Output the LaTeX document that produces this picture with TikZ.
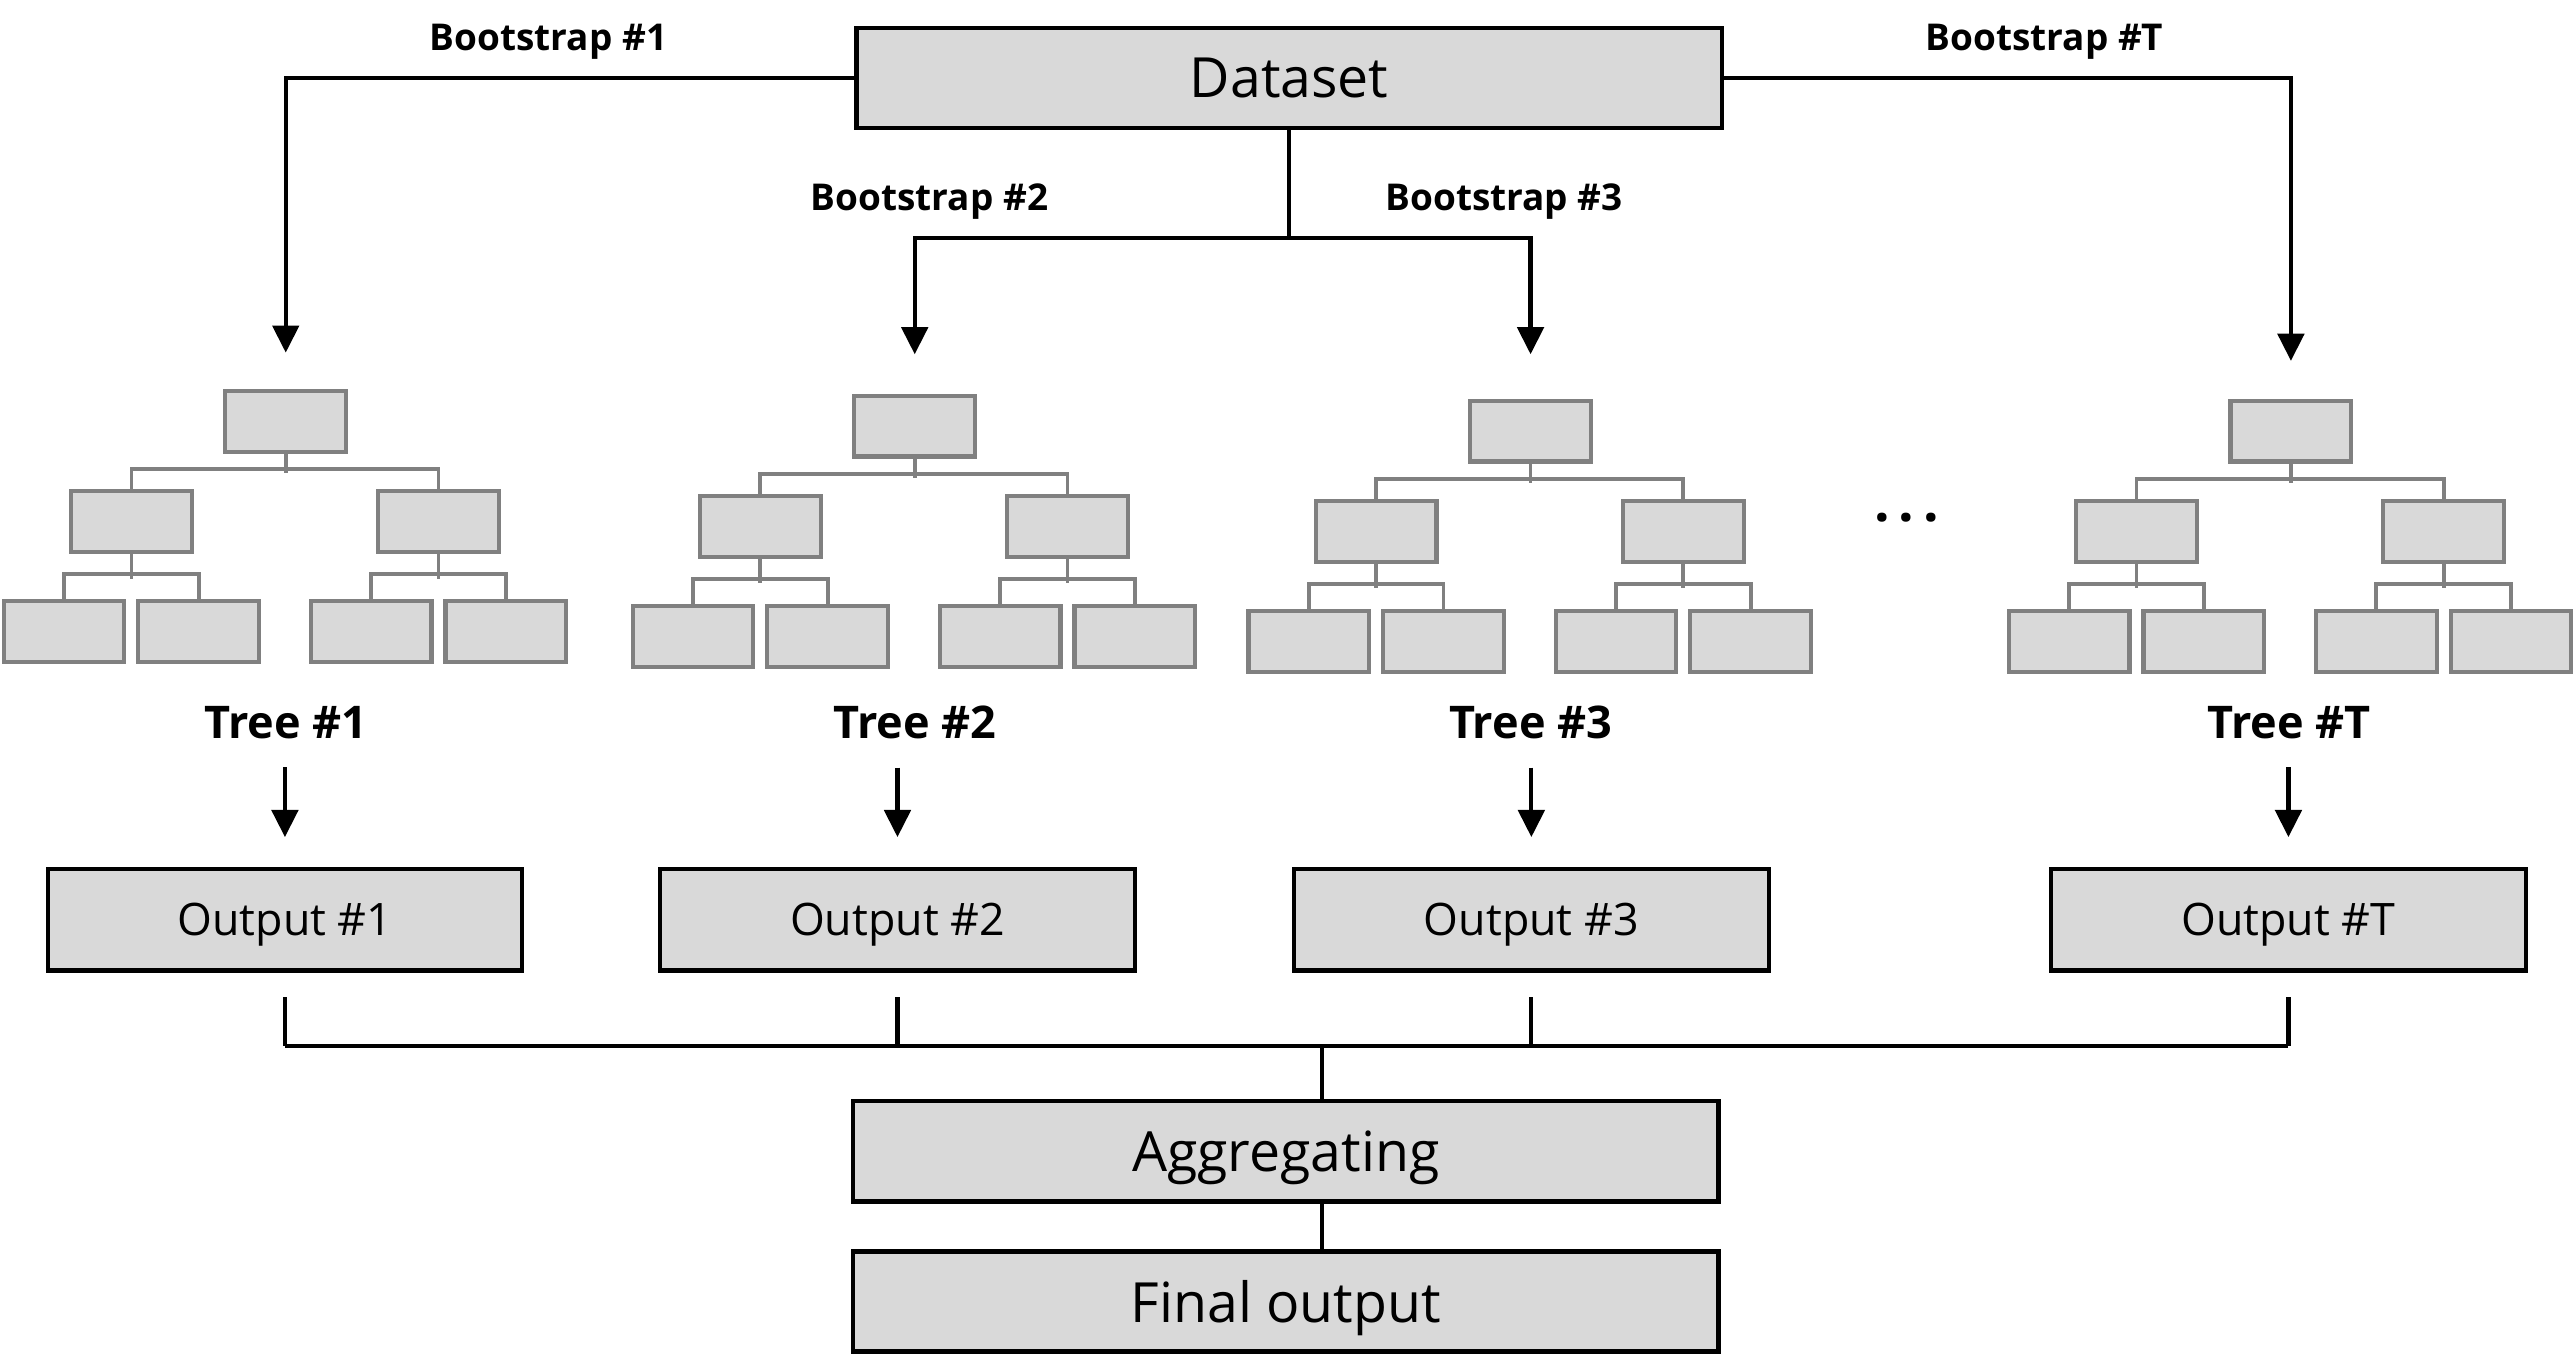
\documentclass[tikz,border=0pt]{standalone}
\usepackage{fontspec}
\setmainfont{Open Sans}
\usetikzlibrary{arrows.meta}

\definecolor{boxgray}{HTML}{D9D9D9}
\definecolor{edgegray}{HTML}{808080}

\tikzset{
  bigbox/.style={draw=black, line width=1.6pt, fill=boxgray, minimum width=105.4mm,
    minimum height=12.2mm, inner sep=0pt, text depth=0pt, font=\fontsize{19.2}{22}\selectfont},
  outbox/.style={draw=black, line width=1.45pt, fill=boxgray, minimum width=57.8mm,
    minimum height=12.4mm, inner sep=0pt, text depth=0pt, font=\fontsize{15.5}{18}\selectfont},
  leaf/.style={draw=edgegray, line width=1.45pt, fill=boxgray, minimum width=14.7mm,
    minimum height=7.4mm, inner sep=0pt},
  twig/.style={draw=edgegray, line width=1.3pt},
  wire/.style={line width=1.45pt},
  arr/.style={wire, -{Triangle[length=3.3mm, width=3.2mm]}},
  bslabel/.style={font=\bfseries\fontsize{12.8}{15}\selectfont, inner sep=0pt, text depth=0pt},
  treelabel/.style={font=\bfseries\fontsize{15.6}{18}\selectfont, inner sep=0pt},
}

% #1 name, #2 x of root, #3 top of root
\newcommand{\drawtree}[3]{%
  \node[leaf] (#1-r) at (#2,#3+18.5) {};
  \node[leaf] (#1-a) at (#2-94,#3+79.5) {};
  \node[leaf] (#1-b) at (#2+93,#3+79.5) {};
  \node[leaf] (#1-aa) at (#2-135,#3+146.5) {};
  \node[leaf] (#1-ab) at (#2-53,#3+146.5) {};
  \node[leaf] (#1-ba) at (#2+52,#3+146.5) {};
  \node[leaf] (#1-bb) at (#2+134,#3+146.5) {};
  \draw[twig] (#1-r.south) -- ++(0,12);
  \draw[twig] (#1-a.north) -- ++(0,-12) -| (#1-b.north);
  \draw[twig] (#1-a.south) -- ++(0,15);
  \draw[twig] (#1-aa.north) -- ++(0,-15) -| (#1-ab.north);
  \draw[twig] (#1-b.south) -- ++(0,15);
  \draw[twig] (#1-ba.north) -- ++(0,-15) -| (#1-bb.north);
}

\begin{document}
\begin{tikzpicture}[x=0.2mm, y=-0.2mm]
\useasboundingbox (0,0) rectangle (1568,834);

\node[bigbox] (data) at (785,47.5) {Dataset};

% trees
\drawtree{t1}{174}{238}
\drawtree{t2}{557}{241}
\drawtree{t3}{932}{244}
\drawtree{tT}{1395}{244}
\node[inner sep=0pt] (dots) at (1161,315) {\bfseries\fontsize{19}{22}\selectfont .\hspace{1.05mm}.\hspace{1.05mm}.};

% bootstraps
\draw[arr, shorten >=4.4mm] (data.west) -| (t1-r.north);
\draw[arr, shorten >=4.6mm] (data.east) -| (tT-r.north);
\coordinate (split) at (785,145);
\draw[wire] (data.south) -- (split);
\draw[arr, shorten >=4.8mm] (split) -| (t2-r.north);
\draw[arr, shorten >=5.4mm] (split) -| (t3-r.north);
\node[bslabel] (bs1) at (334,23) {Bootstrap \#1};
\node[bslabel] (bs2) at (566,120) {Bootstrap \#2};
\node[bslabel] (bs3) at (916,120) {Bootstrap \#3};
\node[bslabel] (bsT) at (1245,23) {Bootstrap \#T};

% tree labels and outputs
\node[treelabel] (tl1) at (174,440) {Tree \#1};
\node[treelabel] (tl2) at (557,440) {Tree \#2};
\node[treelabel] (tl3) at (932,440) {Tree \#3};
\node[treelabel] (tlT) at (1394,440) {Tree \#T};
\node[outbox] (o1) at (173.5,560) {Output \#1};
\node[outbox] (o2) at (546.5,560) {Output \#2};
\node[outbox] (o3) at (932.5,560) {Output \#3};
\node[outbox] (oT) at (1393.5,560) {Output \#T};
\draw[arr, shorten <=3.4mm, shorten >=3.6mm] (tl1.south -| o1.north) -- (o1.north);
\draw[arr, shorten <=3.4mm, shorten >=3.6mm] (tl2.south -| o2.north) -- (o2.north);
\draw[arr, shorten <=3.4mm, shorten >=3.6mm] (tl3.south -| o3.north) -- (o3.north);
\draw[arr, shorten <=3.4mm, shorten >=3.6mm] (tlT.south -| oT.north) -- (oT.north);

% aggregation
\coordinate (bar) at (805,637);
\foreach \o in {o1,o2,o3,oT}
  \draw[wire, shorten <=3mm] (\o.south) -- (\o.south |- bar);
\draw[wire] (o1.south |- bar) -- (oT.south |- bar);
\node[bigbox] (agg) at (783,701) {Aggregating};
\node[bigbox] (final) at (783,792.5) {Final output};
\draw[wire] (bar) -- (bar |- agg.north);
\draw[wire] (agg.south -| bar) -- (final.north -| bar);
\end{tikzpicture}
\end{document}
